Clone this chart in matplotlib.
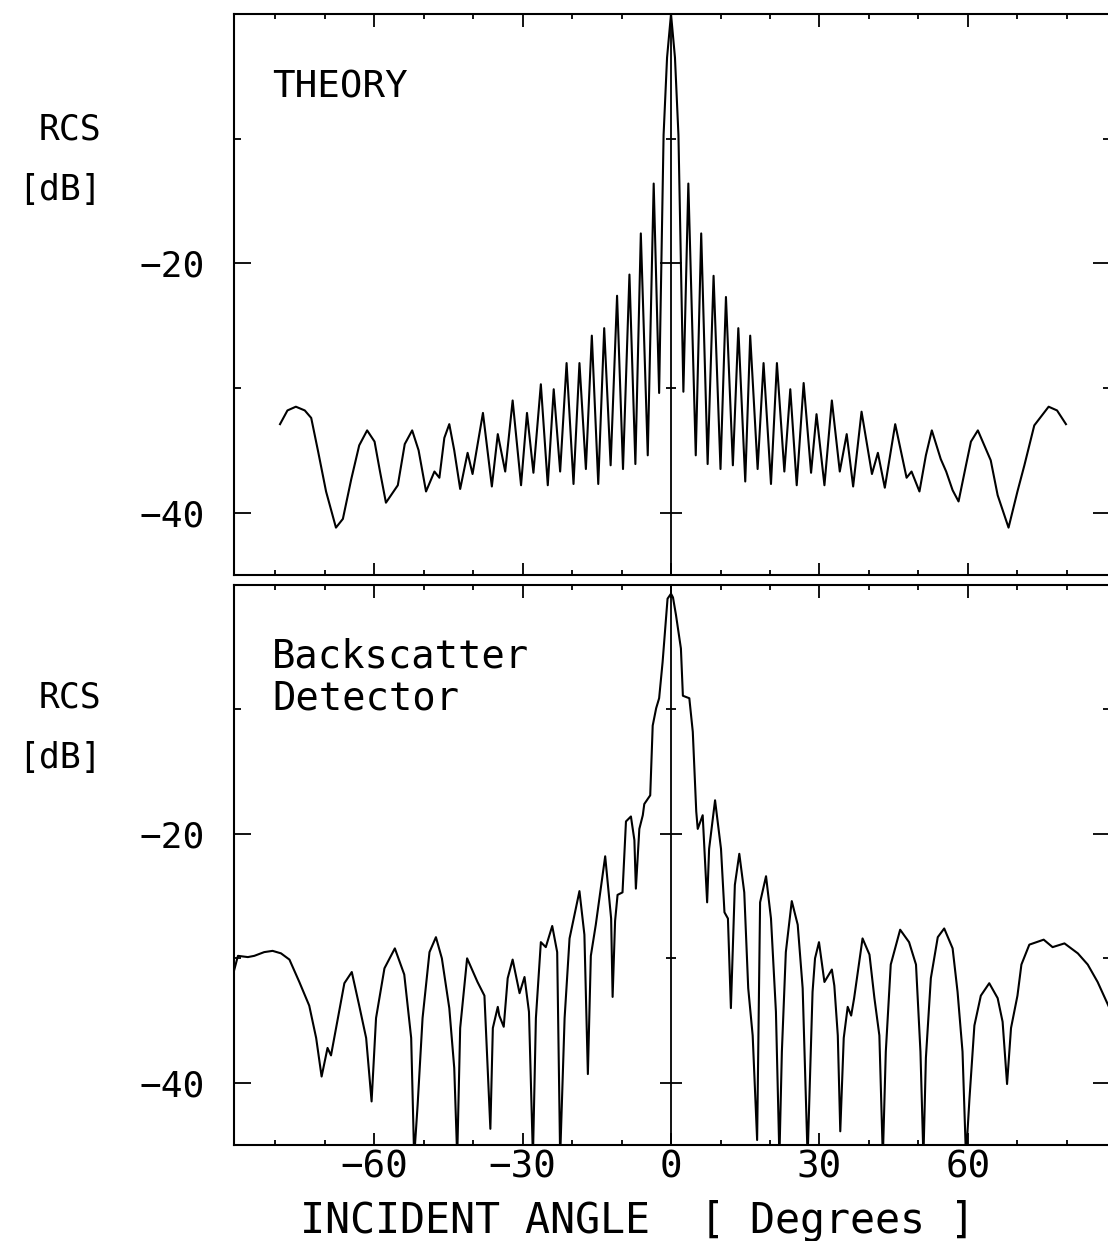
import numpy as np
import matplotlib
matplotlib.use('Agg')
import matplotlib.pyplot as plt
from matplotlib.ticker import MultipleLocator, FixedLocator

# theory curve, peaks / nulls
theory_angle = [-79.0, -77.5, -75.8, -74.0, -72.7, -71.3, -69.7, -67.7, -66.3, -64.6,
                -63.0, -61.4, -59.9, -58.8, -57.6, -55.2, -53.8, -52.3, -51.0, -49.5,
                -47.8, -46.8, -45.8, -44.8, -43.8, -42.6, -41.1, -40.1, -38.0, -36.2,
                -35.0, -33.5, -32.0, -30.3, -29.1, -27.8, -26.3, -24.9, -23.7, -22.4,
                -21.1, -19.7, -18.5, -17.2, -16.0, -14.7, -13.5, -12.2, -10.9, -9.7,
                -8.4, -7.2, -6.1, -4.7, -3.5, -2.4, -1.5, -0.8, 0.0, 0.8,
                1.5, 2.5, 3.5, 5.0, 6.1, 7.4, 8.6, 10.0, 11.1, 12.5,
                13.6, 15.0, 16.0, 17.5, 18.7, 20.2, 21.4, 22.9, 24.1, 25.4,
                26.8, 28.3, 29.4, 31.0, 32.5, 34.1, 35.5, 36.8, 38.5, 40.6,
                41.8, 43.2, 45.3, 47.6, 48.6, 50.2, 51.5, 52.7, 54.5, 55.6,
                56.9, 58.1, 59.6, 60.6, 62.0, 64.6, 66.0, 68.2, 70.0, 71.4,
                73.4, 76.3, 78.0, 79.8]
theory_db = [-32.9, -31.8, -31.5, -31.8, -32.4, -35.1, -38.3, -41.2, -40.5, -37.3,
             -34.6, -33.4, -34.3, -36.7, -39.2, -37.8, -34.5, -33.4, -35.0, -38.3,
             -36.7, -37.2, -34.0, -32.9, -35.0, -38.1, -35.2, -36.9, -32.0, -37.9,
             -33.7, -36.7, -31.0, -37.8, -32.0, -36.8, -29.7, -37.8, -30.1, -36.7,
             -28.0, -37.7, -28.0, -36.5, -25.8, -37.7, -25.2, -36.2, -22.6, -36.5,
             -20.9, -36.1, -17.6, -35.4, -13.6, -30.4, -9.7, -3.5, 0.0, -3.5,
             -9.7, -30.3, -13.6, -35.4, -17.6, -36.1, -21.0, -36.5, -22.7, -36.2,
             -25.2, -37.5, -25.8, -36.5, -28.0, -37.7, -28.0, -36.7, -30.1, -37.8,
             -29.6, -36.8, -32.1, -37.8, -31.0, -36.7, -33.7, -37.9, -31.9, -36.9,
             -35.2, -38.0, -32.9, -37.2, -36.7, -38.3, -35.4, -33.4, -35.7, -36.7,
             -38.2, -39.1, -36.2, -34.3, -33.4, -35.8, -38.6, -41.2, -38.3, -36.2,
             -33.0, -31.5, -31.8, -32.9]

# backscatter detector measurement, bottom panel
meas_angle = [-88.3, -87.5, -85.5, -84.2, -82.2, -80.5, -78.8, -77.1, -75.1, -73.1,
              -71.7, -70.6, -69.4, -68.7, -67.3, -66.0, -64.5, -63.0, -61.6, -60.5,
              -59.6, -57.9, -55.8, -53.9, -52.5, -51.9, -51.2, -50.2, -48.8, -47.5,
              -46.3, -44.8, -43.8, -43.2, -42.6, -41.2, -39.1, -37.7, -36.5, -36.0,
              -35.0, -34.7, -33.8, -33.0, -32.0, -30.6, -29.6, -28.7, -27.9, -27.3,
              -26.3, -25.3, -24.0, -23.0, -22.4, -21.5, -20.5, -18.5, -17.5, -16.8,
              -16.2, -15.2, -13.3, -12.1, -11.8, -11.3, -10.8, -9.8, -9.1, -8.1,
              -7.4, -7.1, -6.4, -5.7, -5.4, -4.2, -3.7, -3.0, -2.4, -1.7,
              -0.7, 0.0, 0.4, 1.0, 2.0, 2.4, 3.7, 4.4, 5.1, 5.4,
              6.4, 7.3, 7.7, 8.9, 10.1, 10.8, 11.5, 12.1, 12.9, 13.8,
              14.8, 15.6, 16.5, 17.4, 18.0, 19.2, 20.2, 21.2, 21.9, 22.4,
              23.2, 24.4, 25.6, 26.6, 27.6, 28.6, 29.1, 29.9, 31.0, 32.5,
              33.0, 33.7, 34.2, 34.9, 35.7, 36.4, 37.0, 38.7, 40.1, 41.1,
              42.1, 42.8, 43.4, 44.4, 46.3, 48.1, 49.5, 50.4, 51.0, 51.5,
              52.5, 53.9, 55.2, 56.9, 57.9, 58.9, 59.6, 60.3, 61.3, 62.6,
              64.3, 66.0, 67.0, 67.9, 68.7, 70.0, 70.8, 72.4, 75.3, 77.1,
              79.5, 82.2, 84.2, 86.2, 88.6]
meas_db = [-31.0, -29.8, -29.9, -29.8, -29.5, -29.4, -29.6, -30.1, -31.9, -33.8,
           -36.4, -39.5, -37.2, -37.8, -34.8, -32.0, -31.1, -33.8, -36.4, -41.5,
           -34.8, -30.8, -29.2, -31.3, -36.4, -46.0, -41.8, -34.8, -29.5, -28.3,
           -30.0, -34.0, -38.8, -46.0, -35.6, -30.0, -31.9, -33.0, -43.7, -35.6,
           -33.9, -34.6, -35.5, -31.6, -30.1, -32.8, -31.5, -34.3, -46.0, -34.8,
           -28.7, -29.1, -27.4, -29.5, -46.0, -34.8, -28.4, -24.6, -28.1, -39.3,
           -29.8, -27.3, -21.8, -26.8, -33.1, -27.0, -24.9, -24.7, -19.0, -18.6,
           -20.5, -24.4, -19.6, -18.5, -17.6, -16.9, -11.3, -9.9, -9.1, -6.2,
           -1.1, -0.7, -1.0, -2.4, -5.1, -8.9, -9.1, -11.8, -18.2, -19.6,
           -18.5, -25.5, -21.2, -17.3, -21.2, -26.3, -26.8, -34.0, -24.1, -21.6,
           -24.7, -32.4, -36.2, -44.6, -25.5, -23.4, -26.8, -34.3, -46.0, -37.5,
           -29.5, -25.4, -27.3, -32.4, -46.0, -32.7, -30.0, -28.7, -31.9, -30.9,
           -32.2, -36.2, -43.9, -36.4, -33.9, -34.6, -33.2, -28.4, -29.7, -33.2,
           -36.2, -46.0, -37.5, -30.5, -27.7, -28.7, -30.5, -37.5, -46.0, -38.0,
           -31.6, -28.3, -27.6, -29.2, -32.7, -37.5, -46.0, -41.3, -35.4, -33.0,
           -32.0, -33.2, -35.1, -40.1, -35.6, -33.0, -30.5, -28.9, -28.5, -29.1,
           -28.8, -29.6, -30.5, -31.9, -34.0]

x_labels = [-60, -30, 0, 30, 60]
y_labels = [-40, -20]
y_minor = [-30, -10]


def setup_axes(ax, show_xlabels):
	ax.set_xlim(-88.3, 88.7)
	ax.set_ylim(-45, 0)
	for sp in ax.spines.values():
		sp.set_linewidth(1.5)
	ax.xaxis.set_major_locator(FixedLocator(x_labels))
	ax.xaxis.set_minor_locator(MultipleLocator(10))
	ax.yaxis.set_major_locator(FixedLocator(y_labels))
	ax.yaxis.set_minor_locator(FixedLocator(y_minor))
	ax.tick_params(which='both', direction='in', top=True, right=True, width=1.3)
	ax.tick_params(axis='x', which='major', length=9)
	ax.tick_params(axis='x', which='minor', length=3.5)
	ax.tick_params(axis='y', which='major', length=12, pad=21, labelsize=26)
	ax.tick_params(axis='y', which='minor', length=5)
	ax.tick_params(axis='x', labelsize=27, pad=3, labelbottom=show_xlabels)
	# centre line at 0 deg with its own cross ticks
	ax.axvline(0, color='k', lw=1.3)
	ax.plot(np.zeros(len(y_labels)), y_labels, ls='none', marker='_', ms=16, mew=1.3, color='k')
	ax.plot(np.zeros(len(y_minor)), y_minor, ls='none', marker='_', ms=7, mew=1.3, color='k')


def main():
	plt.rcParams['font.family'] = ['DejaVu Sans Mono', 'DejaVu Sans']
	W, H = 1108, 1241
	fig = plt.figure(figsize=(W / 100, H / 100), dpi=100)

	ax1 = fig.add_axes([234 / W, 1 - 575 / H, 876 / W, 561 / H])
	ax1.plot(theory_angle, theory_db, color='k', lw=1.5)
	setup_axes(ax1, False)

	ax2 = fig.add_axes([234 / W, 1 - 1145 / H, 876 / W, 560 / H])
	ax2.plot(meas_angle, meas_db, color='k', lw=1.5)
	setup_axes(ax2, True)

	fs = 25
	fig.text(272 / W, 1 - 98 / H, 'THEORY', fontsize=27, va='baseline')
	fig.text(272 / W, 1 - 668 / H, 'Backscatter', fontsize=28, va='baseline')
	fig.text(272 / W, 1 - 710 / H, 'Detector', fontsize=28, va='baseline')
	for ytop in (140, 708):
		fig.text(70 / W, 1 - ytop / H, 'RCS', fontsize=fs, ha='center', va='baseline')
		fig.text(60 / W, 1 - (ytop + 60) / H, '[dB]', fontsize=fs, ha='center', va='baseline')
	fig.text(638 / W, 1 - 1233 / H, 'INCIDENT ANGLE  [ Degrees ]', fontsize=30,
		ha='center', va='baseline')

	fig.savefig('out.png', dpi=100)


if __name__ == '__main__':
	main()
